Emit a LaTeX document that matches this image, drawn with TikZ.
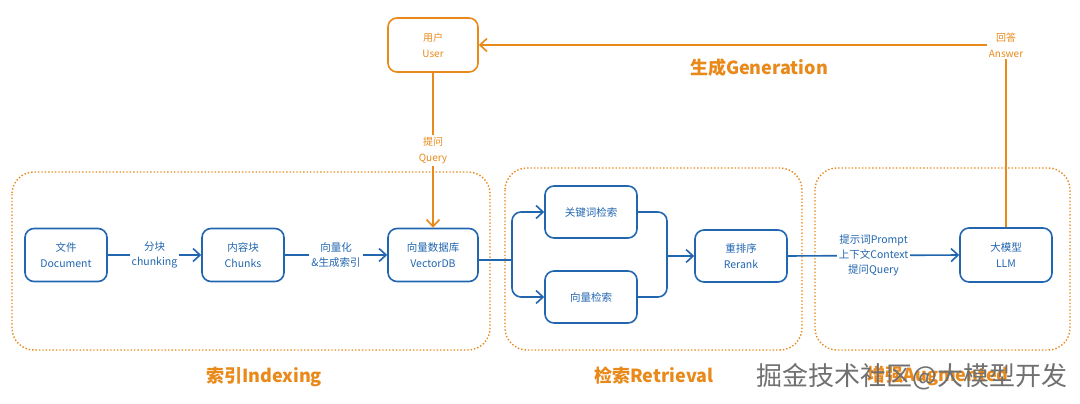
\documentclass[tikz,border=0pt]{standalone}
\usepackage{fontspec}
\setmainfont{Noto Sans CJK SC}
\usetikzlibrary{arrows.meta}
\definecolor{bl}{HTML}{2266B0}
\definecolor{og}{HTML}{E8891A}
\definecolor{wm}{HTML}{707070}
\begin{document}
\begin{tikzpicture}[x=1pt,y=-1pt,
  bluebox/.style={draw=bl,line width=1.6pt,rounded corners=9pt,minimum width=90pt,minimum height=53pt,text=bl,align=center,font=\fontsize{10.5}{16}\selectfont},
  orbox/.style={draw=og,line width=1.6pt,rounded corners=9pt,minimum width=90pt,minimum height=54pt,text=og,align=center,font=\fontsize{10}{16}\selectfont},
  bline/.style={draw=bl,line width=1.6pt},
  barrow/.style={draw=bl,line width=1.6pt,-{Straight Barb[length=7pt,width=13pt,line width=1.6pt]}},
  oarrow/.style={draw=og,line width=1.6pt,-{Straight Barb[length=7pt,width=13pt,line width=1.6pt]}},
  blab/.style={fill=white,text=bl,align=center,inner sep=2pt,font=\fontsize{10.5}{15}\selectfont},
  olab/.style={fill=white,text=og,align=center,inner sep=2pt,font=\fontsize{10}{16}\selectfont},
  grp/.style={draw=og,line width=1.4pt,dotted,rounded corners=22pt},
  title/.style={text=og,font=\fontsize{18}{20}\selectfont\bfseries}]
\useasboundingbox (0,0) rectangle (1080,404);
\fill[white] (0,0) rectangle (1080,404);
% groups
\draw[grp] (12,172) rectangle (490,350);
\draw[grp] (505,168) rectangle (802,350);
\draw[grp] (815,168) rectangle (1070,350);
% nodes
\node[orbox] (user) at (433,45) {用户\\User};
\node[bluebox,minimum width=82pt] (doc) at (66,255) {文件\\Document};
\node[bluebox,minimum width=82pt] (chk) at (243,255) {内容块\\Chunks};
\node[bluebox] (vdb) at (433,255) {向量数据库\\VectorDB};
\node[bluebox,minimum width=92pt,minimum height=52pt] (kw) at (591,212) {关键词检索};
\node[bluebox,minimum width=92pt,minimum height=52pt] (vs) at (591,297) {向量检索};
\node[bluebox,minimum width=92pt,minimum height=52pt] (rr) at (741,256) {重排序\\Rerank};
\node[bluebox,minimum width=92pt,minimum height=54pt] (llm) at (1006,255) {大模型\\LLM};
% connectors
\draw[barrow] (doc.east) -- node[blab] {分块\\chunking} (chk.west);
\draw[barrow] (chk.east) -- node[blab] {向量化\\\&生成索引} (vdb.west);
\coordinate (br) at (512,260);
\coordinate (mg) at (667,256);
\draw[bline] (vdb.east |- br) -- (br);
\draw[barrow,rounded corners=9pt] (br) |- (kw.west);
\draw[barrow,rounded corners=9pt] (br) |- (vs.west);
\draw[bline,rounded corners=9pt] (kw.east) -| (mg);
\draw[bline,rounded corners=9pt] (vs.east) -| (mg);
\draw[barrow] (mg) -- (rr.west);
\draw[barrow] (rr.east) -- node[blab] {提示词Prompt\\上下文Context\\提问Query} (llm.west);
\draw[oarrow] (user.south) -- node[olab] {提问\\Query} (vdb.north);
\draw[oarrow] (llm.north) |- node[olab] {回答\\Answer} (user.east);
% titles
\node[title] (gen) at (759,68) {生成Generation};
\node[title] (idx) at (264,377) {索引Indexing};
\node[title] (ret) at (654,376) {检索Retrieval};
\node[title] (aug) at (938,376) {增强Augmented};
% watermark
\node[text=wm,font=\fontsize{26}{28}\selectfont,inner sep=0pt] (wmk) at (912,377) {掘金技术社区@大模型开发};
\end{tikzpicture}
\end{document}
